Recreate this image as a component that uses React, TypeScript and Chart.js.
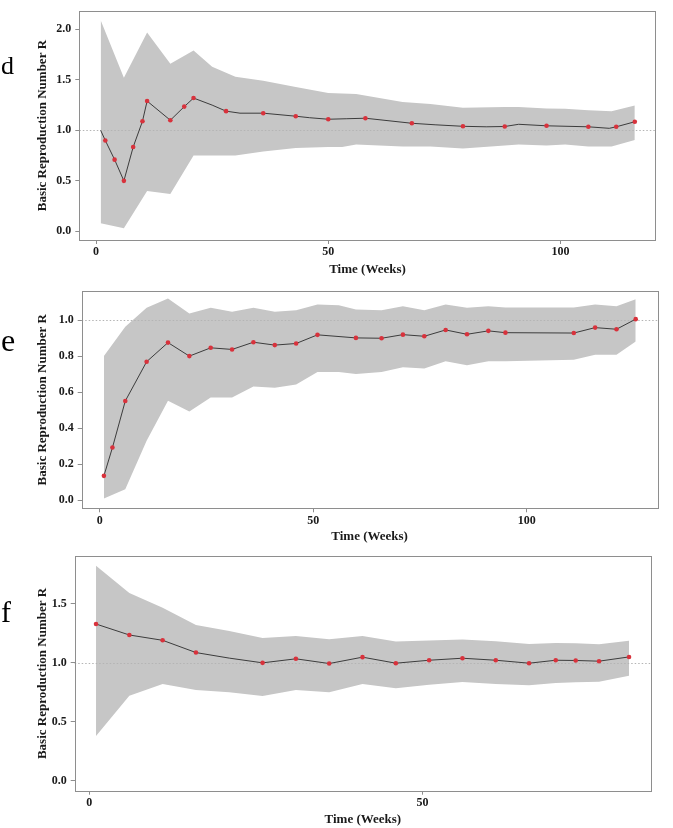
import React, { useEffect, useRef } from "react";
import { Chart, registerables } from "chart.js";

Chart.register(...registerables);

// ---------- Panel d ----------
const dLineWeeks = [1, 2, 4, 6, 8, 10, 11, 16, 19, 21, 25, 28, 31, 36, 43, 46, 50, 54, 58, 62, 68, 73, 79, 84, 88, 91, 97, 106, 110.5, 112, 116];
const dLineR = [1.0, 0.9, 0.71, 0.5, 0.835, 1.09, 1.29, 1.1, 1.235, 1.32, 1.25, 1.19, 1.17, 1.17, 1.14, 1.125, 1.11, 1.115, 1.12, 1.1, 1.07, 1.055, 1.04, 1.035, 1.038, 1.06, 1.045, 1.035, 1.02, 1.035, 1.085];
const dMarkWeeks = [2, 4, 6, 8, 10, 11, 16, 19, 21, 28, 36, 43, 50, 58, 68, 79, 88, 97, 106, 112, 116];
const dMarkR = [0.9, 0.71, 0.5, 0.835, 1.09, 1.29, 1.1, 1.235, 1.32, 1.19, 1.17, 1.14, 1.11, 1.12, 1.07, 1.04, 1.038, 1.045, 1.035, 1.035, 1.085];
const dBandWeeks = [1, 6, 11, 16, 21, 25, 30, 36, 43, 50, 53, 56, 61, 66, 72, 79, 88, 91, 97, 101, 106, 111, 116];
const dUpper = [2.09, 1.52, 1.97, 1.66, 1.79, 1.63, 1.53, 1.49, 1.43, 1.37, 1.365, 1.36, 1.32, 1.28, 1.26, 1.225, 1.23, 1.23, 1.216, 1.215, 1.2, 1.19, 1.245];
const dLower = [0.08, 0.03, 0.4, 0.37, 0.75, 0.75, 0.75, 0.79, 0.825, 0.835, 0.835, 0.86, 0.85, 0.84, 0.84, 0.82, 0.85, 0.86, 0.85, 0.86, 0.84, 0.84, 0.905];
const dXTicks = [0, 50, 100];
const dYTicks = [0, 0.5, 1.0, 1.5, 2.0];

// ---------- Panel e ----------
const eWeeks = [1, 3, 6, 11, 16, 21, 26, 31, 36, 41, 46, 51, 60, 66, 71, 76, 81, 86, 91, 95, 111, 116, 121, 125.5];
const eR = [0.136, 0.293, 0.551, 0.769, 0.875, 0.8, 0.846, 0.837, 0.877, 0.861, 0.87, 0.918, 0.901, 0.899, 0.919, 0.91, 0.945, 0.921, 0.94, 0.93, 0.928, 0.958, 0.949, 1.005];
const eBandWeeks = [1, 6, 11, 16, 21, 26, 31, 36, 41, 46, 51, 56, 60, 66, 71, 76, 81, 86, 91, 95, 111, 116, 121, 125.5];
const eUpper = [0.8, 0.963, 1.068, 1.119, 1.037, 1.068, 1.046, 1.068, 1.046, 1.055, 1.086, 1.082, 1.059, 1.055, 1.077, 1.055, 1.086, 1.068, 1.077, 1.07, 1.07, 1.086, 1.077, 1.115];
const eLower = [0.011, 0.062, 0.331, 0.553, 0.493, 0.57, 0.57, 0.632, 0.625, 0.643, 0.712, 0.712, 0.701, 0.712, 0.738, 0.731, 0.771, 0.749, 0.771, 0.771, 0.78, 0.808, 0.808, 0.881];
const eXTicks = [0, 50, 100];
const eYTicks = [0, 0.2, 0.4, 0.6, 0.8, 1.0];

// ---------- Panel f ----------
const fLineWeeks = [1, 6, 11, 16, 21, 26, 31, 36, 41, 46, 51, 56, 61, 66, 70, 73, 76.5, 81];
const fLineR = [1.329, 1.236, 1.191, 1.087, 1.04, 1.0, 1.034, 0.994, 1.048, 0.997, 1.022, 1.039, 1.022, 0.997, 1.022, 1.02, 1.014, 1.05];
const fMarkWeeks = [1, 6, 11, 16, 26, 31, 36, 41, 46, 51, 56, 61, 66, 70, 73, 76.5, 81];
const fMarkR = [1.329, 1.236, 1.191, 1.087, 1.0, 1.034, 0.994, 1.048, 0.997, 1.022, 1.039, 1.022, 0.997, 1.022, 1.02, 1.014, 1.05];
const fBandWeeks = [1, 6, 11, 16, 21, 26, 31, 36, 41, 46, 51, 56, 61, 66, 70, 73, 76.5, 81];
const fUpper = [1.823, 1.593, 1.466, 1.32, 1.27, 1.21, 1.228, 1.2, 1.228, 1.18, 1.19, 1.197, 1.183, 1.16, 1.169, 1.165, 1.157, 1.188];
const fLower = [0.379, 0.722, 0.82, 0.77, 0.75, 0.719, 0.77, 0.75, 0.82, 0.784, 0.815, 0.837, 0.82, 0.809, 0.829, 0.835, 0.84, 0.89];
const fXTicks = [0, 50];
const fYTicks = [0, 0.5, 1.0, 1.5];

const REF_R = 1.0;
const X_TITLE = "Time (Weeks)";
const Y_TITLE = "Basic Reproduction Number R";

const SERIF = '"Liberation Serif", "Times New Roman", serif';
const BAND = "#c6c6c6";
const LINE = "#3c3c3c";
const MARK = "#d8323c";
const BOX = "#8e8e8e";
const TEXT = "#1a1a1a";

type PanelProps = {
  top: number;
  height: number;
  lineWeeks: number[];
  lineR: number[];
  markWeeks: number[];
  markR: number[];
  bandWeeks: number[];
  upper: number[];
  lower: number[];
  xTicks: number[];
  yTicks: number[];
  xMin: number;
  xMax: number;
  yMin: number;
  yMax: number;
  padLeft: number;
  padTop: number;
  padRight: number;
  yWidth: number;
  xHeight: number;
  xTitlePad: number;
};

const pts = (xs: number[], ys: number[]) => xs.map((x, i) => ({ x, y: ys[i] }));

const boxPlugin = {
  id: "boxPlugin",
  afterDraw(chart: any) {
    const { ctx, chartArea: a } = chart;
    ctx.save();
    ctx.strokeStyle = BOX;
    ctx.lineWidth = 1;
    ctx.strokeRect(Math.round(a.left) + 0.5, Math.round(a.top) + 0.5, Math.round(a.right - a.left), Math.round(a.bottom - a.top));
    ctx.restore();
  },
};

const refPlugin = {
  id: "refPlugin",
  afterDatasetDraw(chart: any, args: any) {
    if (args.index !== 1) return;
    const { ctx, chartArea: a } = chart;
    const y = Math.round(chart.scales.y.getPixelForValue(REF_R)) + 0.5;
    ctx.save();
    ctx.strokeStyle = "#b4b4b4";
    ctx.lineWidth = 1;
    ctx.setLineDash([1.5, 2]);
    ctx.beginPath();
    ctx.moveTo(a.left, y);
    ctx.lineTo(a.right, y);
    ctx.stroke();
    ctx.restore();
  },
};

function RPanel(p: PanelProps) {
  const ref = useRef<HTMLCanvasElement>(null);
  useEffect(() => {
    const tickFont = { family: SERIF, size: 12, weight: "bold" as const };
    const titleFont = { family: SERIF, size: 13, weight: "bold" as const };
    const chart = new Chart(ref.current as HTMLCanvasElement, {
      type: "line",
      data: {
        datasets: [
          { data: pts(p.bandWeeks, p.upper), borderWidth: 0, pointRadius: 0, fill: false, tension: 0, order: 4 },
          { data: pts(p.bandWeeks, p.lower), borderWidth: 0, pointRadius: 0, fill: "-1", backgroundColor: BAND, tension: 0, order: 3 },
          { data: pts(p.lineWeeks, p.lineR), borderColor: LINE, borderWidth: 1, pointRadius: 0, fill: false, tension: 0, order: 2 },
          {
            data: pts(p.markWeeks, p.markR),
            showLine: false,
            pointRadius: 2.3,
            pointBackgroundColor: MARK,
            pointBorderWidth: 0,
            fill: false,
            order: 1,
          },
        ],
      } as any,
      options: {
        animation: false,
        responsive: false,
        events: [],
        layout: { padding: { left: p.padLeft, top: p.padTop, right: p.padRight, bottom: 0 } },
        plugins: { legend: { display: false }, tooltip: { enabled: false } },
        scales: {
          x: {
            type: "linear",
            min: p.xMin,
            max: p.xMax,
            afterBuildTicks: (s: any) => {
              s.ticks = p.xTicks.map((v) => ({ value: v }));
            },
            afterFit: (s: any) => {
              s.height = p.xHeight;
            },
            ticks: { font: tickFont, color: TEXT, padding: 1, maxRotation: 0, callback: (v: any) => String(v) },
            grid: { display: true, drawOnChartArea: false, drawTicks: true, tickLength: 4, color: BOX },
            border: { display: false },
            title: { display: true, text: X_TITLE, font: titleFont, color: TEXT, padding: { top: 0, bottom: p.xTitlePad } },
          },
          y: {
            type: "linear",
            min: p.yMin,
            max: p.yMax,
            afterBuildTicks: (s: any) => {
              s.ticks = p.yTicks.map((v) => ({ value: v }));
            },
            afterFit: (s: any) => {
              s.width = p.yWidth;
            },
            ticks: { font: tickFont, color: TEXT, padding: 4, callback: (v: any) => Number(v).toFixed(1) },
            grid: { display: true, drawOnChartArea: false, drawTicks: true, tickLength: 4, color: BOX },
            border: { display: false },
            title: { display: true, text: Y_TITLE, font: titleFont, color: TEXT, padding: { top: 0, bottom: 0 } },
          },
        },
      } as any,
      plugins: [boxPlugin, refPlugin],
    });
    return () => chart.destroy();
  }, []);
  return (
    <canvas
      ref={ref}
      width={673}
      height={p.height}
      style={{ position: "absolute", left: 0, top: p.top, width: 673, height: p.height, display: "block" }}
    />
  );
}

const letterStyle = (top: number, size: number): React.CSSProperties => ({
  position: "absolute",
  left: 1,
  top,
  fontFamily: SERIF,
  fontSize: size,
  lineHeight: 1,
  color: "#000",
});

export default function App() {
  return (
    <div style={{ position: "absolute", left: 0, top: 0, width: 673, height: 828, background: "#fff", overflow: "hidden" }}>
      <RPanel
        top={0}
        height={280}
        lineWeeks={dLineWeeks}
        lineR={dLineR}
        markWeeks={dMarkWeeks}
        markR={dMarkR}
        bandWeeks={dBandWeeks}
        upper={dUpper}
        lower={dLower}
        xTicks={dXTicks}
        yTicks={dYTicks}
        xMin={-3.6}
        xMax={120.5}
        yMin={-0.086}
        yMax={2.18}
        padLeft={35}
        padTop={4}
        padRight={17.3}
        yWidth={44.3}
        xHeight={40}
        xTitlePad={2.2}
      />
      <RPanel
        top={280}
        height={265}
        lineWeeks={eWeeks}
        lineR={eR}
        markWeeks={eWeeks}
        markR={eR}
        bandWeeks={eBandWeeks}
        upper={eUpper}
        lower={eLower}
        xTicks={eXTicks}
        yTicks={eYTicks}
        xMin={-4.2}
        xMax={130.6}
        yMin={-0.044}
        yMax={1.16}
        padLeft={35}
        padTop={9}
        padRight={15.5}
        yWidth={46.7}
        xHeight={36.7}
        xTitlePad={0.2}
      />
      <RPanel
        top={545}
        height={283}
        lineWeeks={fLineWeeks}
        lineR={fLineR}
        markWeeks={fMarkWeeks}
        markR={fMarkR}
        bandWeeks={fBandWeeks}
        upper={fUpper}
        lower={fLower}
        xTicks={fXTicks}
        yTicks={fYTicks}
        xMin={-2.2}
        xMax={84.3}
        yMin={-0.084}
        yMax={1.904}
        padLeft={35}
        padTop={9.7}
        padRight={22}
        yWidth={39.7}
        xHeight={37.3}
        xTitlePad={0.2}
      />
      <div style={letterStyle(53, 26)}>d</div>
      <div style={letterStyle(324, 32)}>e</div>
      <div style={letterStyle(597, 30)}>f</div>
    </div>
  );
}
